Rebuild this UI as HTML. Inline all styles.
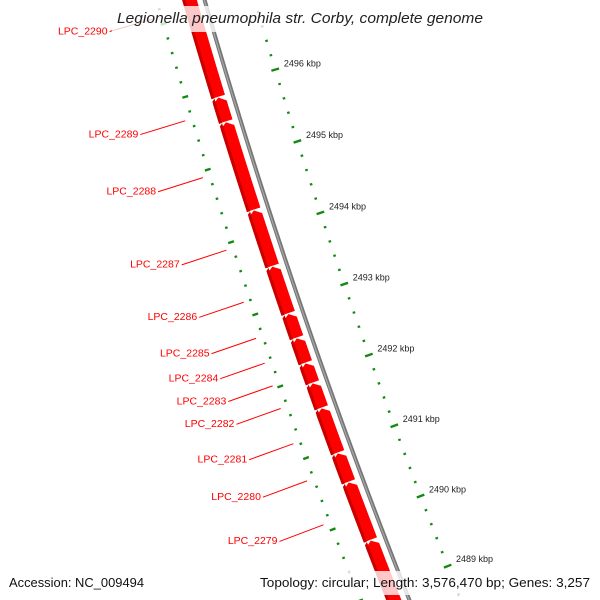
<!DOCTYPE html>
<html><head><meta charset="utf-8"><style>
html,body{margin:0;padding:0;background:#fff;overflow:hidden;}
svg{display:block;font-family:"Liberation Sans",sans-serif;}
</style></head><body>
<svg id="map" width="600" height="600" viewBox="0 0 600 600" xmlns="http://www.w3.org/2000/svg">
<g id="layer"></g>
<rect x="112" y="6" width="376" height="26" fill="#fff" opacity="0.78"/>
<text x="300" y="23" text-anchor="middle" font-size="15" font-style="italic" fill="#222" textLength="366" lengthAdjust="spacingAndGlyphs">Legionella pneumophila str. Corby, complete genome</text>
<rect x="0" y="571" width="600" height="24" fill="#fff" opacity="0.78"/>
<text x="9" y="587" font-size="13" fill="#111" textLength="135" lengthAdjust="spacingAndGlyphs">Accession: NC_009494</text>
<text x="590" y="587" font-size="13" fill="#111" text-anchor="end" textLength="330" lengthAdjust="spacingAndGlyphs">Topology: circular; Length: 3,576,470 bp; Genes: 3,257</text>
</svg>
<script>
const geneNames = ["LPC_2290","LPC_2289","LPC_2288","LPC_2287","LPC_2286","LPC_2285","LPC_2284","LPC_2283","LPC_2282","LPC_2281","LPC_2280","LPC_2279","LPC_2278"];
const geneHi = [2498.33,2495.87,2495.53,2494.31,2493.53,2492.87,2492.53,2492.18,2491.90,2491.55,2490.92,2490.51,2489.69];
const geneLo = [2495.87,2495.53,2494.31,2493.53,2492.87,2492.53,2492.18,2491.90,2491.55,2490.92,2490.51,2489.69,2488.30];
const labeledGenes = [true,true,true,true,true,true,true,true,true,true,true,true,false];
const tickMajor = [2498,2497,2496,2495,2494,2493,2492,2491,2490,2489,2488];
const tickLabels = ["2498 kbp","2497 kbp","2496 kbp","2495 kbp","2494 kbp","2493 kbp","2492 kbp","2491 kbp","2490 kbp","2489 kbp","2488 kbp"];
const tickMinorStep = 0.2;

const NS = "http://www.w3.org/2000/svg";
const layer = document.getElementById('layer');
const CX = 6544, CY = -1829, K0 = 2496, A0 = 163.15, DA = 0.657;
function ang(k){ return (A0 - (K0 - k) * DA) * Math.PI / 180; }
function pt(k, r){ const a = ang(k); return [CX + r * Math.cos(a), CY + r * Math.sin(a)]; }
function mk(tag, attrs){ const e = document.createElementNS(NS, tag); for (const k in attrs) e.setAttribute(k, attrs[k]); return e; }
function arcPts(k1, k2, r, n){ const out = []; for (let i = 0; i <= n; i++){ out.push(pt(k1 + (k2 - k1) * i / n, r)); } return out; }
function fmt(p){ return p.map(q => q[0].toFixed(2) + ',' + q[1].toFixed(2)).join(' '); }

// backbone
const bb = mk('polyline', {points: fmt(arcPts(2499.5, 2487.5, 6598, 60)), fill: 'none', stroke: '#767676', 'stroke-width': 4});


layer.appendChild(bb);
const bb2 = mk('polyline', {points: fmt(arcPts(2499.5, 2487.5, 6598.3, 60)), fill: 'none', stroke: '#a8a8a8', 'stroke-width': 1.2});


layer.appendChild(bb2);

// tick rings
function drawTicks(r, majLen, minLen, withLabels, prefix){
  for (let k = 2487.4; k <= 2499.51; k += tickMinorStep){
    const kk = Math.round(k * 10) / 10;
    const isMaj = tickMajor.indexOf(kk) >= 0;
    const L = isMaj ? majLen : minLen;
    const p1 = pt(kk, r - L / 2), p2 = pt(kk, r + L / 2);
    const ln = mk('line', {x1: p1[0], y1: p1[1], x2: p2[0], y2: p2[1], stroke: '#138a13', 'stroke-width': isMaj ? 2.4 : 2.2});
    
    
    layer.appendChild(ln);
  }
  if (withLabels){
    tickMajor.forEach((k, i) => {
      const p = pt(k, r - 9);
      const t = mk('text', {x: p[0], y: p[1] - 3, 'font-size': 9, fill: '#222', 'dominant-baseline': 'middle'});
      t.textContent = tickLabels[i];
      
      
      layer.appendChild(t);
    });
  }
}
drawTicks(6550, 8, 2.6, true, 'outer');
drawTicks(6644, 6, 2.6, false, 'inner');

// genes
const rIn = 6605, rOut = 6620, rMid = 6612.5, head = 0.07;
geneNames.forEach((name, i) => {
  const hi = geneHi[i], lo = geneLo[i];
  const sh = hi - head;
  const outer = arcPts(lo, sh, rOut, 12);
  const inner = arcPts(sh, lo, rIn, 12);
  const poly = outer.concat([pt(hi, rMid)], inner);
  const g = mk('polygon', {points: fmt(poly), fill: '#ff0000', stroke: '#fff', 'stroke-width': 0.8});
  
  
  layer.appendChild(g);
  const shade = arcPts(lo, sh, rOut - 0.5, 12).concat([pt(hi - 0.035, rOut - 0.5), pt(hi - 0.005, rOut - 3.5)], arcPts(sh, lo, rOut - 3.5, 12));
  const s = mk('polygon', {points: fmt(shade), fill: '#c80000'});
  
  
  layer.appendChild(s);
  if (labeledGenes[i]){
    const mid = (hi + lo) / 2;
    const e1 = pt(mid, 6651), e2 = pt(mid, 6698);
    const l = mk('line', {x1: e1[0], y1: e1[1], x2: e2[0], y2: e2[1], stroke: '#ff0000', 'stroke-width': 1});
    
    
    layer.appendChild(l);
    const t = mk('text', {x: e2[0] - 2, y: e2[1], 'font-size': 10.5, fill: '#ff0000', 'text-anchor': 'end', 'dominant-baseline': 'middle'});
    t.textContent = name;
    
    
    layer.appendChild(t);
  }
});
</script>
</body></html>
